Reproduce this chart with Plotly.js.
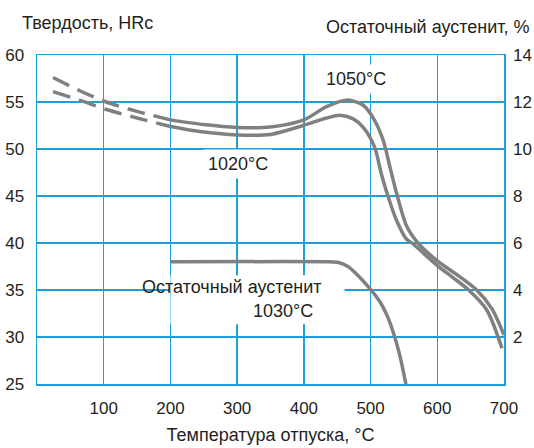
<!DOCTYPE html>
<html><head><meta charset="utf-8">
<script src="https://cdn.plot.ly/plotly-3.0.1.min.js"></script>
<style>html,body{margin:0;padding:0;background:#fff}#chart{width:534px;height:448px}</style>
</head><body><div id="chart"></div>
<script>
// Hardness curves (HRc) vs tempering temperature (°C)
const temp1050Dashed = [24, 64, 104, 150, 200];
const hrc1050Dashed  = [57.6, 56.2, 55.0, 54.0, 53.1];
const temp1020Dashed = [24, 64, 104, 150, 200];
const hrc1020Dashed  = [56.1, 55.2, 54.2, 53.3, 52.4];

const temp1050 = [200, 250, 300, 350, 400, 434, 466, 489, 506, 519, 529, 539, 554, 571, 600, 632, 659, 682, 700];
const hrc1050  = [53.1, 52.6, 52.3, 52.35, 53.1, 54.5, 55.2, 54.65, 53.05, 50.9, 48.1, 45.3, 41.8, 40.0, 38.1, 36.5, 35.0, 33.0, 30.2];

const temp1020 = [200, 250, 300, 350, 399, 434, 454, 474, 489, 506, 516, 526, 539, 554, 562, 600, 622, 647, 674, 697];
const hrc1020  = [52.4, 51.8, 51.5, 51.55, 52.5, 53.3, 53.6, 53.2, 52.3, 50.2, 47.4, 45.0, 42.4, 40.4, 40.0, 37.6, 36.4, 35.0, 32.9, 28.8];

// Retained austenite (%) after 1030°C hardening
const tempAust = [200, 438, 452, 466, 480, 499, 514, 525, 534, 544, 553];
const austPct  = [5.2, 5.2, 5.17, 5.0, 4.65, 4.06, 3.5, 2.9, 2.2, 1.2, 0];

const xTicks  = [100, 200, 300, 400, 500, 600, 700];
const yTicks  = [25, 30, 35, 40, 45, 50, 55, 60];
const y2Ticks = [2, 4, 6, 8, 10, 12, 14];

const grey = '#808080';
const blue = '#1e9fdc';
const txt = '#231f20';
const font = {family: 'Liberation Sans, Arial, sans-serif', size: 18, color: txt};
const tickFont = {family: 'Liberation Sans, Arial, sans-serif', size: 17, color: txt};

const lineSolid = {color: grey, width: 3.5, shape: 'spline', smoothing: 0.8};
const lineAust = {color: grey, width: 3.5, shape: 'spline', smoothing: 0.5};
const lineDash = {color: grey, width: 3.5, dash: '18px,9px', shape: 'spline', smoothing: 0.8};

const traces = [
  {x: temp1050Dashed, y: hrc1050Dashed, mode: 'lines', line: lineDash, hoverinfo: 'skip'},
  {x: temp1020Dashed, y: hrc1020Dashed, mode: 'lines', line: lineDash, hoverinfo: 'skip'},
  {x: temp1050, y: hrc1050, mode: 'lines', line: lineSolid, name: '1050°C'},
  {x: temp1020, y: hrc1020, mode: 'lines', line: lineSolid, name: '1020°C'},
  {x: tempAust, y: austPct, yaxis: 'y2', mode: 'lines', line: lineAust, name: 'Остаточный аустенит 1030°C'}
];

const axisCommon = {
  showgrid: true, gridcolor: blue, gridwidth: 1.5,
  showline: true, mirror: true, linecolor: blue, linewidth: 1.5,
  zeroline: false, ticks: '', tickfont: tickFont, fixedrange: true
};

const layout = {
  width: 534, height: 448,
  margin: {l: 37, r: 30, t: 55, b: 64},
  paper_bgcolor: '#fff', plot_bgcolor: '#fff',
  showlegend: false,
  font: font,
  xaxis: Object.assign({}, axisCommon, {
    range: [0, 700], tickvals: xTicks, ticktext: xTicks.map(String),
    ticklabelstandoff: 8,
    title: {text: 'Температура отпуска, °C', font: font, standoff: 11}
  }),
  yaxis: Object.assign({}, axisCommon, {
    range: [25, 60], tickvals: yTicks, ticktext: yTicks.map(String),
    ticklabelstandoff: 8
  }),
  yaxis2: {
    overlaying: 'y', side: 'right', range: [0, 14],
    tickvals: y2Ticks, ticktext: y2Ticks.map(String),
    showgrid: false, showline: false, zeroline: false, ticks: '',
    tickfont: tickFont, ticklabelstandoff: 8, fixedrange: true
  },
  shapes: [
    {type: 'rect', xref: 'x', yref: 'y', x0: 200, x1: 461, y0: 31.35, y1: 36.56,
     fillcolor: '#fff', line: {width: 0}, layer: 'between'}
  ],
  annotations: [
    {xref: 'paper', yref: 'paper', x: -0.037, y: 1.097, xanchor: 'left', yanchor: 'middle',
     text: 'Твердость, HRc', showarrow: false, font: font},
    {xref: 'paper', yref: 'paper', x: 1.06, y: 1.085, xanchor: 'right', yanchor: 'middle',
     text: 'Остаточный аустенит, %', showarrow: false, font: font},
    {xref: 'x', yref: 'y', x: 302, y: 48.45, text: '1020°C', showarrow: false, font: font,
     bgcolor: '#fff', borderpad: 4},
    {xref: 'x', yref: 'y', x: 478, y: 57.5, text: '1050°C', showarrow: false, font: font,
     bgcolor: '#fff', borderpad: 4},
    {xref: 'x', yref: 'y', x: 292.8, y: 35.32, text: 'Остаточный аустенит', showarrow: false, font: font},
    {xref: 'x', yref: 'y', x: 369, y: 32.8, text: '1030°C', showarrow: false, font: font}
  ]
};

Plotly.newPlot('chart', traces, layout, {displayModeBar: false, staticPlot: true});
</script>
</body></html>
